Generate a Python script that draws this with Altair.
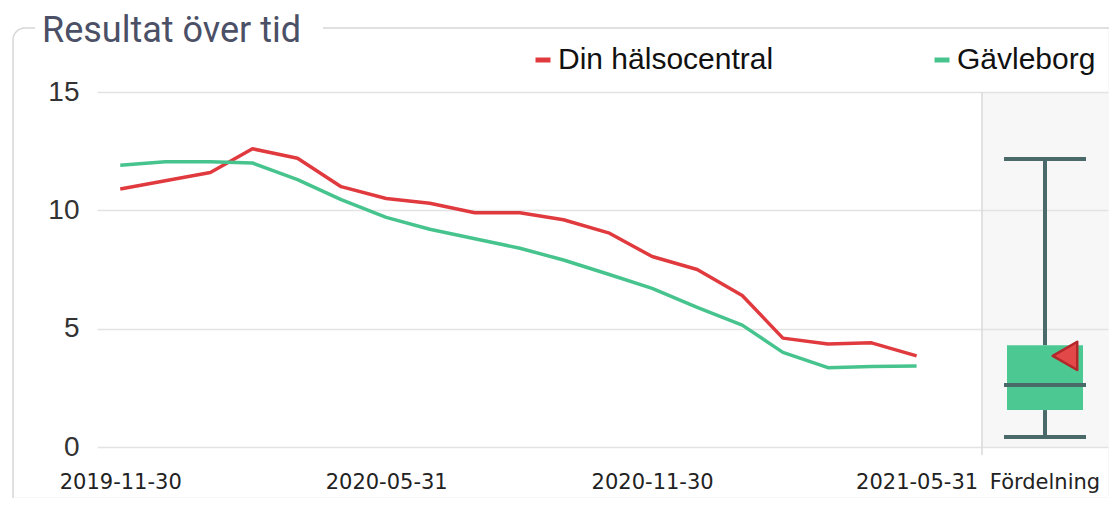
import altair as alt
import pandas as pd

# ---------------- data ----------------
dates = ["2019-11-30", "2019-12-31", "2020-01-31", "2020-02-29", "2020-03-31",
         "2020-04-30", "2020-05-31", "2020-06-30", "2020-07-31", "2020-08-31",
         "2020-09-30", "2020-10-31", "2020-11-30", "2020-12-31", "2021-01-31",
         "2021-02-28", "2021-03-31", "2021-04-30", "2021-05-31"]
din_halsocentral = [10.9, 11.25, 11.6, 12.6, 12.2, 11.0, 10.5, 10.3, 9.9, 9.9,
                    9.6, 9.05, 8.05, 7.5, 6.4, 4.6, 4.35, 4.4, 3.85]
gavleborg = [11.9, 12.05, 12.05, 12.0, 11.3, 10.45, 9.7, 9.2, 8.8, 8.4,
             7.9, 7.3, 6.7, 5.9, 5.15, 4.0, 3.35, 3.4, 3.42]
series_names = ["Din hälsocentral", "Gävleborg"]
series_colors = ["#e03a3e", "#47c48e"]
x_tick_dates = ["2019-11-30", "2020-05-31", "2020-11-30", "2021-05-31"]
x_domain = ["2019-11-14", "2021-07-15"]
y_ticks = [0, 5, 10, 15]
title_text = "Resultat över tid"
box_label = "Fördelning"
box_min, box_q1, box_median, box_q3, box_max = 0.42, 1.56, 2.62, 4.3, 12.17

# ---------------- helpers ----------------
def dt(s):
    y, m, d = (int(v) for v in s.split("-"))
    return alt.DateTime(year=y, month=m, date=d, utc=True)

W_LEFT, W_RIGHT, H = 885, 126, 355
RIGHT = W_LEFT + W_RIGHT
GRID = "#e3e3e3"
DARK = "#4a6a6a"
BOXGREEN = "#4cc892"
TICKFONT = "DejaVu Sans"

df = pd.DataFrame({
    "date": dates * 2,
    "value": din_halsocentral + gavleborg,
    "series": [series_names[0]] * len(dates) + [series_names[1]] * len(dates),
})

yscale = alt.Scale(domain=[0, 15])

lines = alt.Chart(df).mark_line(strokeWidth=3.5, strokeJoin="round").encode(
    x=alt.X("date:T",
            scale=alt.Scale(type="utc", domain=[dt(s) for s in x_domain]),
            axis=alt.Axis(values=[dt(s) for s in x_tick_dates], format="%Y-%m-%d",
                          title=None, grid=False, domain=False, ticks=False,
                          labelPadding=24, labelFont=TICKFONT, labelFontSize=21,
                          labelColor="#222", labelFlush=False)),
    y=alt.Y("value:Q", scale=yscale,
            axis=alt.Axis(values=y_ticks, title=None, grid=True, gridColor=GRID,
                          gridWidth=1.5, domain=False, ticks=False,
                          labelPadding=18, labelFont="Liberation Sans",
                          labelFontSize=28, labelColor="#333")),
    color=alt.Color("series:N",
                    scale=alt.Scale(domain=series_names, range=series_colors),
                    legend=alt.Legend(orient="none", legendX=431, legendY=-47,
                                      direction="horizontal", title=None,
                                      symbolType="stroke", symbolSize=225,
                                      symbolStrokeWidth=5, labelFont="Liberation Sans",
                                      labelFontSize=30, labelColor="#111",
                                      labelOffset=0, columnPadding=150,
                                      labelLimit=400)),
)

deco = alt.Chart(pd.DataFrame({"t": [title_text]}))
border = deco.mark_rect(fillOpacity=0, stroke="#d6d6d6", strokeWidth=1.5,
                        cornerRadiusTopLeft=12).encode(
    x=alt.value(-84), x2=alt.value(RIGHT), y=alt.value(-64), y2=alt.value(405))
cover_right = deco.mark_rect(color="white").encode(
    x=alt.value(RIGHT - 1.5), x2=alt.value(RIGHT + 0.75), y=alt.value(-63), y2=alt.value(405.75))
cover_bottom = deco.mark_rect(color="white").encode(
    x=alt.value(-83), x2=alt.value(RIGHT + 0.75), y=alt.value(403.5), y2=alt.value(405.75))
title_bg = deco.mark_rect(color="white").encode(
    x=alt.value(-62), x2=alt.value(226), y=alt.value(-84), y2=alt.value(-58))
title = deco.mark_text(font="Roboto", fontSize=36, color="#4b5066",
                       align="left", baseline="alphabetic").encode(
    x=alt.value(-55), y=alt.value(-50), text="t:N")

left = alt.layer(border, cover_right, cover_bottom, title_bg, title, lines).properties(
    width=W_LEFT, height=H)

# ---------------- distribution panel ----------------
box_df = pd.DataFrame({
    "panel": [box_label], "min": [box_min], "q1": [box_q1], "median": [box_median],
    "q3": [box_q3], "max": [box_max], "current": [din_halsocentral[-1]],
})
xb = alt.X("panel:N", scale=alt.Scale(paddingInner=0, paddingOuter=0),
           axis=alt.Axis(title=None, labelAngle=0, ticks=False, domain=False,
                         labelPadding=24, labelFont=TICKFONT, labelFontSize=21,
                         labelColor="#222"))
yaxis_b = alt.Axis(values=y_ticks, title=None, labels=False, ticks=False,
                   domain=False, grid=True, gridColor=GRID, gridWidth=1.5)

def yb(field):
    return alt.Y(f"{field}:Q", scale=yscale, axis=yaxis_b)

base = alt.Chart(box_df)
whisk_hi = base.mark_rule(color=DARK, strokeWidth=4).encode(x=xb, y=yb("q3"), y2="max:Q")
whisk_lo = base.mark_rule(color=DARK, strokeWidth=4).encode(x=xb, y=yb("min"), y2="q1:Q")
box = base.mark_bar(color=BOXGREEN, size=76).encode(x=xb, y=yb("q1"), y2="q3:Q")
cap_hi = base.mark_tick(color=DARK, thickness=4, size=82, opacity=1).encode(x=xb, y=yb("max"))
cap_lo = base.mark_tick(color=DARK, thickness=4, size=82, opacity=1).encode(x=xb, y=yb("min"))
med = base.mark_tick(color=DARK, thickness=4, size=82, opacity=1).encode(x=xb, y=yb("median"))
tri = base.mark_point(shape="triangle-left", filled=True, fill="#e34848",
                      stroke="#b3262a", strokeWidth=2.5, strokeJoin="round",
                      size=800, xOffset=20, opacity=1).encode(x=xb, y=yb("current"))
sep = base.mark_rule(color="#d9d9d9", strokeWidth=1.5).encode(
    x=alt.value(0), y=alt.value(0), y2=alt.value(363))

right = alt.layer(sep, whisk_hi, whisk_lo, box, cap_hi, cap_lo, med, tri).properties(
    width=W_RIGHT, height=H,
    view=alt.ViewBackground(fill="#f7f7f7", strokeWidth=0))

chart = alt.hconcat(left, right, spacing=0, bounds="flush").resolve_legend(
    color="independent").properties(
    padding={"left": 4, "top": 0, "right": 0, "bottom": 0},
    background="white",
).configure_view(strokeWidth=0)

chart.save("out.html", embed_options={"renderer": "svg", "actions": False})
